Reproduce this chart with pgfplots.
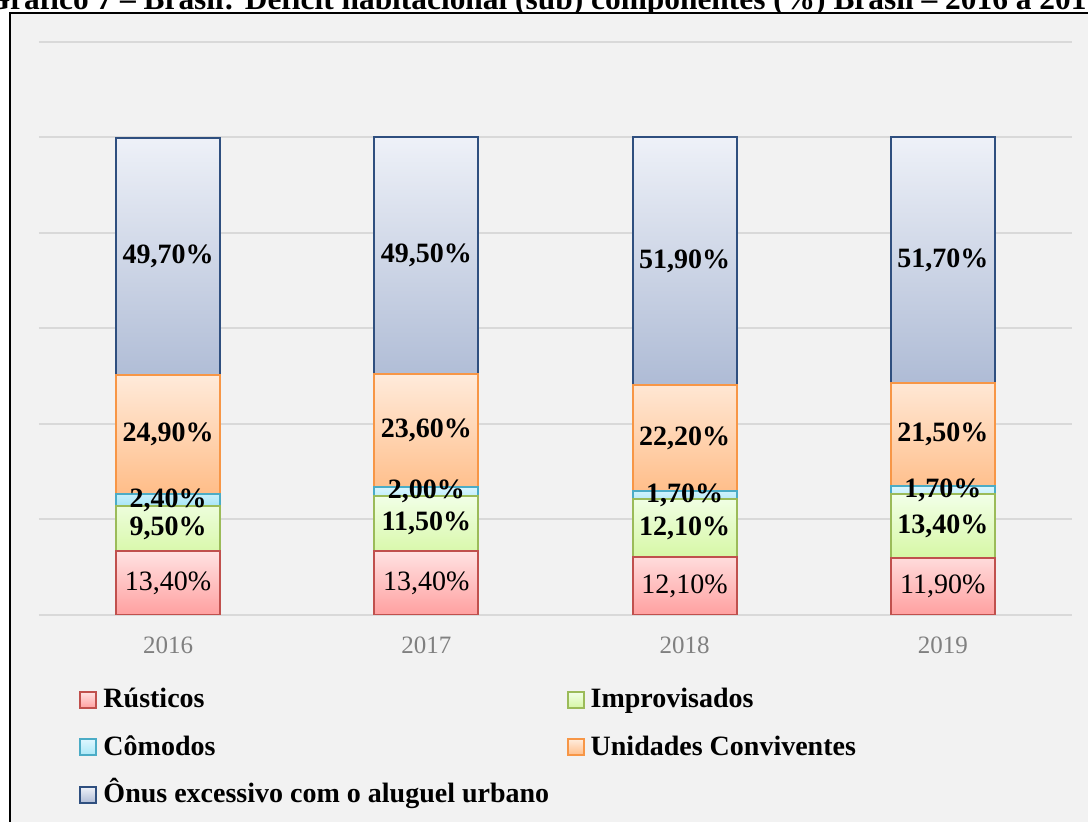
\documentclass[border=0pt]{standalone}
\usepackage{fontspec}
\setmainfont{Liberation Serif}
\usepackage{pgfplots}
\pgfplotsset{compat=1.18}
\definecolor{bg}{HTML}{F2F2F2}
\definecolor{gridc}{HTML}{D9D9D9}
\definecolor{tickc}{HTML}{808080}
\definecolor{rB}{HTML}{C0504D}\definecolor{rT}{HTML}{FFE2E2}\definecolor{rL}{HTML}{FFA0A0}
\definecolor{iB}{HTML}{9BBB59}\definecolor{iT}{HTML}{F2FFE8}\definecolor{iL}{HTML}{D6F7A4}
\definecolor{cB}{HTML}{4BACC6}\definecolor{cT}{HTML}{DDF7FF}\definecolor{cL}{HTML}{A8E6F6}
\definecolor{uB}{HTML}{F79646}\definecolor{uT}{HTML}{FFEBDB}\definecolor{uL}{HTML}{FFBD88}
\definecolor{oB}{HTML}{2F4F7F}\definecolor{oT}{HTML}{EEF1F8}\definecolor{oL}{HTML}{AEBBD5}
\pgfplotsset{
  geom/.style={at={(19.5pt,103.5pt)}, anchor=south west, scale only axis,
    width=516.5pt, height=286.5pt, xmin=-0.5, xmax=3.5, ymin=0, ymax=120},
  sq/.style={legend image code/.code={\draw[##1] (0pt,0pt) rectangle (8pt,8pt);}},
}
\begin{document}
\begin{tikzpicture}[x=1pt,y=1pt]
\useasboundingbox (0,0) rectangle (544,411);
\clip (0,0) rectangle (544,411);
\fill[white] (0,0) rectangle (544,411);
\node[anchor=base, font=\fontsize{15.7}{18}\selectfont\bfseries, inner sep=0pt] at (272,406)
  {Gráfico 7 – Brasil: Déficit habitacional (sub) componentes (\%) Brasil – 2016 a 2019};
\draw[line width=1pt, fill=bg] (5,-10) rectangle (560,404.5);
\begin{axis}[geom,
  ybar stacked, bar width=0.403,
  xtick={0,1,2,3}, xticklabels={2016,2017,2018,2019},
  ytick={0,20,...,120}, yticklabels={},
  ymajorgrids, major grid style={draw=gridc, line width=1pt},
  axis line style={draw=none}, major tick length=0pt,
  xticklabel style={font=\fontsize{12.5}{14}\selectfont, text=tickc, yshift=-7.5pt},
  legend columns=2,
  legend style={at={(0.0392,-0.1274)}, anchor=north west, draw=none, fill=none,
    inner sep=0pt, outer sep=0pt, font=\fontsize{14}{16}\selectfont\bfseries,
    row sep=10.75pt, column sep=3pt,
    cells={anchor=base west},
    nodes={inner sep=0pt, text height=10pt, text depth=3pt}},
]
\addplot[sq, draw=rB, line width=1pt, top color=rT, bottom color=rL]
  coordinates {(0,13.4) (1,13.4) (2,12.1) (3,11.9)};
\addplot[sq, draw=iB, line width=1pt, top color=iT, bottom color=iL]
  coordinates {(0,9.5) (1,11.5) (2,12.1) (3,13.4)};
\addplot[sq, draw=cB, line width=1pt, top color=cT, bottom color=cL]
  coordinates {(0,2.4) (1,2.0) (2,1.7) (3,1.7)};
\addplot[sq, draw=uB, line width=1pt, top color=uT, bottom color=uL]
  coordinates {(0,24.9) (1,23.6) (2,22.2) (3,21.5)};
\addplot[sq, draw=oB, line width=1pt, top color=oT, bottom color=oL]
  coordinates {(0,49.7) (1,49.5) (2,51.9) (3,51.7)};
\legend{\makebox[228.6pt][l]{Rústicos}, Improvisados, \makebox[228.6pt][l]{Cômodos}, Unidades Conviventes, Ônus excessivo com o aluguel urbano}
\end{axis}
\begin{axis}[geom, hide axis]
\addplot[draw=none, mark=none, point meta=explicit,
  nodes near coords={\pgfmathprintnumber[fixed, fixed zerofill, precision=2, use comma, assume math mode=true]{\pgfplotspointmeta}\%},
  every node near coord/.append style={anchor=center, inner sep=0pt, text=black, font=\fontsize{14}{16}\selectfont}]
  table[x=x, y=y, meta=v] {
x y v
0 6.70 13.4
1 6.70 13.4
2 6.05 12.1
3 5.95 11.9
};
\addplot[draw=none, mark=none, point meta=explicit,
  nodes near coords={\pgfmathprintnumber[fixed, fixed zerofill, precision=2, use comma, assume math mode=true]{\pgfplotspointmeta}\%},
  every node near coord/.append style={anchor=center, inner sep=0pt, text=black, font=\fontsize{14}{16}\selectfont\bfseries}]
  table[x=x, y=y, meta=v] {
x y v
0 18.15 9.5
1 19.15 11.5
2 18.15 12.1
3 18.60 13.4
0 24.10 2.4
1 25.90 2.0
2 25.05 1.7
3 26.15 1.7
0 37.75 24.9
1 38.70 23.6
2 37.00 22.2
3 37.75 21.5
0 75.05 49.7
1 75.25 49.5
2 74.05 51.9
3 74.35 51.7
};
\end{axis}
\end{tikzpicture}
\end{document}
